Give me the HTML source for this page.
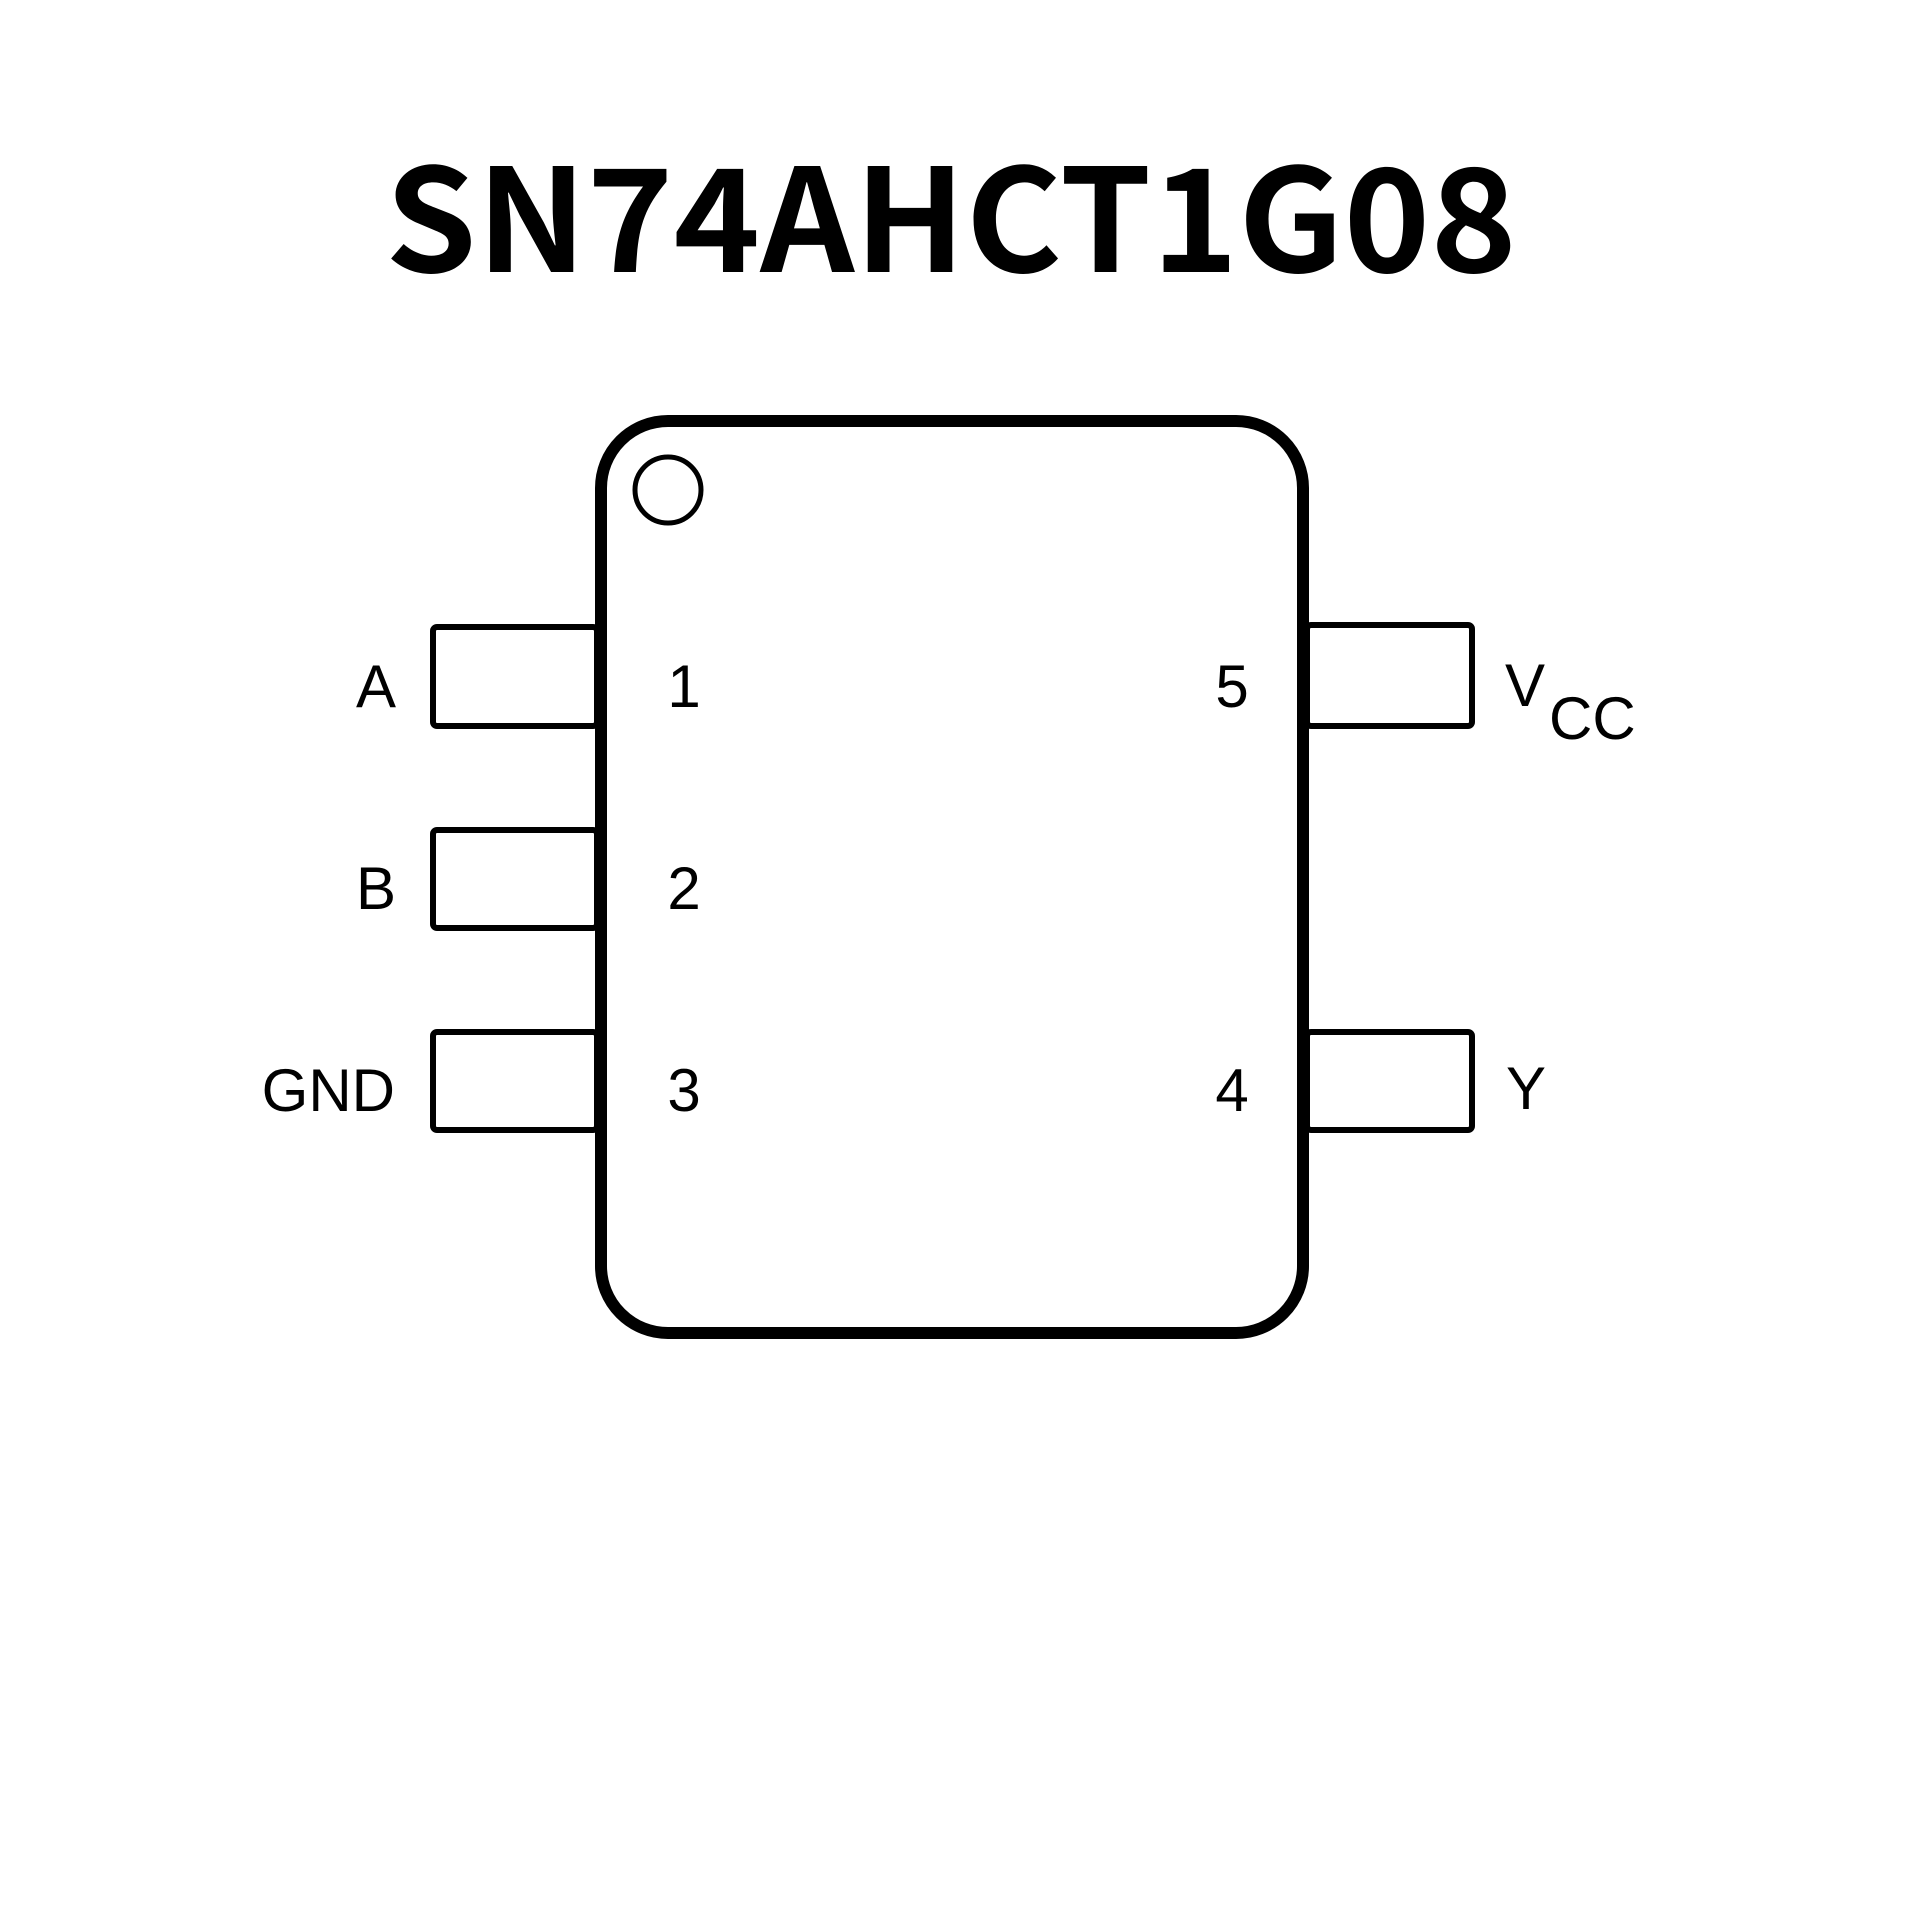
<!DOCTYPE html>
<html><head><meta charset="utf-8"><style>html,body{margin:0;padding:0;background:#fff}</style></head>
<body>
<svg width="1920" height="1920" viewBox="0 0 1920 1920" xmlns="http://www.w3.org/2000/svg">
<rect width="1920" height="1920" fill="#fff"/>
<text x="951" y="272" text-anchor="middle" font-family="Noto Sans CJK SC, DejaVu Sans, sans-serif" font-weight="bold" font-size="143" textLength="1132" lengthAdjust="spacingAndGlyphs">SN74AHCT1G08</text>
<g fill="#fff" stroke="#000" stroke-width="6">
<rect x="433" y="627" width="164" height="99" rx="4"/>
<rect x="433" y="830" width="164" height="98" rx="4"/>
<rect x="433" y="1032" width="164" height="98" rx="4"/>
<rect x="1307" y="625" width="165" height="101" rx="4"/>
<rect x="1307" y="1032" width="165" height="98" rx="4"/>
</g>
<rect x="601" y="421" width="702" height="912" rx="67" fill="none" stroke="#000" stroke-width="12"/>
<circle cx="668" cy="490" r="33" fill="none" stroke="#000" stroke-width="5"/>
<g font-family="Liberation Sans, sans-serif" font-size="60" fill="#000">
<text x="376" y="707" text-anchor="middle">A</text>
<text x="376" y="909" text-anchor="middle">B</text>
<text x="395" y="1111" text-anchor="end">GND</text>
<text x="684" y="707" text-anchor="middle">1</text>
<text x="684" y="909" text-anchor="middle">2</text>
<text x="684" y="1111" text-anchor="middle">3</text>
<text x="1232" y="707" text-anchor="middle">5</text>
<text x="1232" y="1111" text-anchor="middle">4</text>
<text x="1505" y="706">V</text>
<text x="1549" y="739">CC</text>
<text x="1506" y="1109">Y</text>
</g>
</svg>
</body></html>
